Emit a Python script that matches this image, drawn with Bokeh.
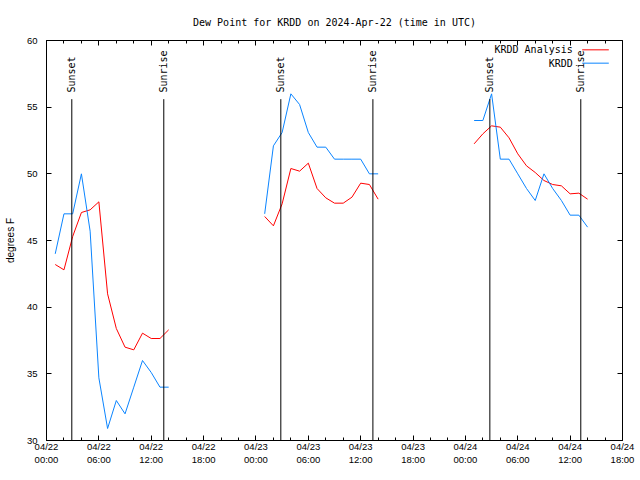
import math
from bokeh.plotting import figure
from bokeh.models import Range1d, FixedTicker, LinearAxis, Label, Arrow, ColumnDataSource
from bokeh.embed import file_html
from bokeh.resources import INLINE
from bokeh.core.properties import value

TITLE = "Dew Point for KRDD on 2024-Apr-22 (time in UTC)"
Y_LABEL = "degrees F"

# x = hours since 04/22 00:00 UTC
tick_hours = [0, 6, 12, 18, 24, 30, 36, 42, 48, 54, 60, 66]
tick_labels = ["04/22\n00:00", "04/22\n06:00", "04/22\n12:00", "04/22\n18:00",
               "04/23\n00:00", "04/23\n06:00", "04/23\n12:00", "04/23\n18:00",
               "04/24\n00:00", "04/24\n06:00", "04/24\n12:00", "04/24\n18:00"]
minor_hours = [2, 4, 8, 10, 14, 16, 20, 22, 26, 28, 32, 34, 38, 40, 44, 46,
               50, 52, 56, 58, 62, 64]
y_ticks = [30, 35, 40, 45, 50, 55, 60]

# Day 1 (04/22)
hours_d1 = [1, 2, 3, 4, 5, 6, 7, 8, 9, 10, 11, 12, 13, 14]
analysis_d1 = [43.2, 42.8, 45.3, 47.1, 47.3, 47.9, 41.0, 38.4, 37.0, 36.8, 38.05, 37.65, 37.65, 38.3]
obs_d1 = [44.0, 47.0, 47.0, 50.0, 45.7, 34.7, 30.9, 33.0, 32.0, 34.0, 36.0, 35.1, 34.0, 34.0]

# Day 2 (04/23)
hours_d2 = [25, 26, 27, 28, 29, 30, 31, 32, 33, 34, 35, 36, 37, 38]
analysis_d2 = [46.8, 46.1, 47.75, 50.4, 50.2, 50.8, 48.9, 48.2, 47.8, 47.8, 48.25, 49.3, 49.2, 48.1]
obs_d2 = [47.0, 52.1, 53.1, 56.0, 55.2, 53.1, 52.0, 52.0, 51.1, 51.1, 51.1, 51.1, 50.0, 50.0]

# Day 3 (04/24)
hours_d3 = [49, 50, 51, 52, 53, 54, 55, 56, 57, 58, 59, 60, 61, 62]
analysis_d3 = [52.25, 53.0, 53.6, 53.5, 52.7, 51.5, 50.6, 50.1, 49.5, 49.2, 49.1, 48.5, 48.55, 48.1]
obs_d3 = [54.0, 54.0, 56.0, 51.1, 51.1, 50.0, 48.9, 48.0, 50.0, 48.9, 48.0, 46.9, 46.9, 46.0]

sunset_hours = [2.9, 26.85, 50.8]
sunrise_hours = [13.44, 37.4, 61.22]

RED = "#ff0000"
BLUE = "#0a84ff"
MONO = "DejaVu Sans Mono"
SANS = "Liberation Sans"

p = figure(width=640, height=480, output_backend="svg", toolbar_location=None,
           x_range=Range1d(0, 66), y_range=Range1d(30, 60),
           min_border_left=46, min_border_right=18, min_border_top=40, min_border_bottom=40)

p.title.text = TITLE
p.title.align = "center"
p.title.text_font = MONO
p.title.text_font_size = "10px"
p.title.text_font_style = "normal"
p.title.text_color = "black"
p.title.standoff = 25

p.grid.visible = False
p.outline_line_color = "black"
p.outline_line_width = 1
p.background_fill_color = "white"
p.border_fill_color = "white"

xt = FixedTicker(ticks=tick_hours, minor_ticks=minor_hours)
yt = FixedTicker(ticks=y_ticks)

xa = p.xaxis[0]
xa.ticker = xt
xa.major_label_overrides = {h: lab for h, lab in zip(tick_hours, tick_labels)}
xa.major_label_text_font = SANS
xa.major_label_text_font_size = "9.5px"
xa.major_label_text_color = "black"
xa.major_label_standoff = 0
xa.major_tick_in = 5
xa.major_tick_out = 0
xa.minor_tick_in = 3
xa.minor_tick_out = 0
xa.major_tick_line_color = "black"
xa.minor_tick_line_color = "black"
xa.axis_line_color = "black"

ya = p.yaxis[0]
ya.ticker = yt
ya.axis_label = Y_LABEL
ya.axis_label_text_font = SANS
ya.axis_label_text_font_size = "10px"
ya.axis_label_text_font_style = "normal"
ya.axis_label_text_color = "black"
ya.axis_label_standoff = 8
ya.major_label_text_font = SANS
ya.major_label_text_font_size = "9.5px"
ya.major_label_text_color = "black"
ya.major_label_standoff = 9
ya.major_tick_in = 5
ya.major_tick_out = 0
ya.major_tick_line_color = "black"
ya.minor_tick_line_color = None
ya.axis_line_color = "black"

top = LinearAxis(ticker=FixedTicker(ticks=tick_hours, minor_ticks=minor_hours),
                 major_label_text_color=None, major_label_text_font_size="0px",
                 major_label_standoff=0,
                 axis_line_color=None, major_tick_in=5, major_tick_out=0,
                 minor_tick_in=3, minor_tick_out=0,
                 major_tick_line_color="black", minor_tick_line_color="black")
p.add_layout(top, "above")
right = LinearAxis(ticker=FixedTicker(ticks=y_ticks),
                   major_label_text_color=None, major_label_text_font_size="0px",
                   major_label_standoff=0,
                   axis_line_color=None, major_tick_in=5, major_tick_out=0,
                   major_tick_line_color="black", minor_tick_line_color=None)
p.add_layout(right, "right")

# data lines
for hrs, ana, obs in [(hours_d1, analysis_d1, obs_d1),
                      (hours_d2, analysis_d2, obs_d2),
                      (hours_d3, analysis_d3, obs_d3)]:
    p.line(hrs, ana, line_color=RED, line_width=1)
    p.line(hrs, obs, line_color=BLUE, line_width=1)

# sunrise / sunset markers
SUN_TOP = 55.6
LABEL_Y = 56.1
sun_x = sunset_hours + sunrise_hours
sun_txt = ["Sunset"] * len(sunset_hours) + ["Sunrise"] * len(sunrise_hours)
src = ColumnDataSource(dict(x=sun_x, y0=[30] * len(sun_x), y1=[SUN_TOP] * len(sun_x),
                            ly=[LABEL_Y] * len(sun_x), t=sun_txt))
p.segment(x0="x", y0="y0", x1="x", y1="y1", source=src, line_color="black", line_width=1)
p.text(x="x", y="ly", text="t", source=src, angle=math.pi / 2,
       text_align="left", text_baseline="middle",
       text_font=value(MONO), text_font_size="10px", text_color="black")

# legend (gnuplot style: label then sample)
LEG_TXT_X = 60.3
LEG_LINE_X0, LEG_LINE_X1 = 61.38, 64.43
for name, col, yy in [("KRDD Analysis", RED, 59.3), ("KRDD", BLUE, 58.3)]:
    p.add_layout(Label(x=LEG_TXT_X, y=yy, text=name, text_align="right",
                       text_baseline="middle", text_font=MONO, text_font_size="10px",
                       text_color="black"))
    p.add_layout(Arrow(end=None, x_start=LEG_LINE_X0, y_start=yy, x_end=LEG_LINE_X1, y_end=yy,
                       line_color=col, line_width=1))

open("out.html", "w").write(file_html(p, INLINE))
